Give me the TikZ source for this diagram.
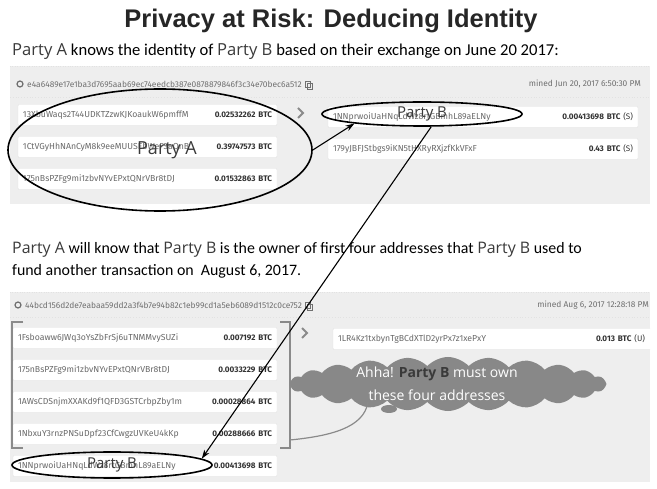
\documentclass[tikz,border=0pt]{standalone}
\usepackage{fontspec}
\setmainfont{Carlito}
\newfontfamily\titlefont{Liberation Sans}
\newfontfamily\shotfont{Fira Sans}
\newfontfamily\partyfont{Open Sans}
\usetikzlibrary{shapes.geometric,shapes.symbols,arrows.meta}

\definecolor{titletext}{HTML}{262626}
\definecolor{partytext}{HTML}{3A3A3A}
\definecolor{panelgray}{HTML}{EEEEEE}
\definecolor{boxedge}{HTML}{E2E2E2}
\definecolor{addrtext}{HTML}{6A6A6A}
\definecolor{amttext}{HTML}{333333}
\definecolor{headtext}{HTML}{707070}
\definecolor{cloudgray}{HTML}{888888}
\definecolor{brackgray}{HTML}{8A8A8A}

\newcommand{\pA}{{\partyfont\color{partytext}Party A}}
\newcommand{\pB}{{\partyfont\color{partytext}Party B}}

\tikzset{
  sentence/.style={anchor=base west, inner sep=0pt, font=\fontsize{15.9}{18}\selectfont},
  headline/.style={inner sep=0pt, text=headtext, font=\shotfont\fontsize{8.4}{9}\selectfont},
  addrbox/.style={draw=boxedge, fill=white, rounded corners=1pt, minimum height=21pt,
    inner xsep=5pt, inner ysep=0pt, text=addrtext, font=\shotfont\fontsize{8.7}{9}\selectfont},
  ring/.style={draw, ellipse, line width=1.6pt, inner sep=0pt, font=\partyfont, text=partytext},
  pointer/.style={-{Stealth[length=9pt,width=6pt]}, line width=1.1pt},
  chevron/.style={draw=brackgray, line width=2pt},
}
\newcommand{\amount}[1]{{\fontsize{8.1}{9}\selectfont\bfseries\color{amttext}#1}}

\begin{document}
\begin{tikzpicture}[x=1pt, y=-1pt]
\useasboundingbox (0,0) rectangle (657,489);
\fill [white] (0,0) rectangle (657,489);

% title and first sentence
\node (title) [font=\titlefont\bfseries\fontsize{25.5}{28}\selectfont, text=titletext] at (331,21) {Privacy at Risk: Deducing Identity};
\node (line1) [sentence, font=\fontsize{16.6}{18}\selectfont] at (12,56) {\pA{} knows the identity of \pB{} based on their exchange on June 20 2017:};

% first transaction
\fill [panelgray] (10,66) rectangle (650,204);
\draw [boxedge, dotted] (10,66) -- (650,66);
\draw [boxedge, dotted, line width=0.8pt] (10,97) -- (650,97);
\draw [headtext, line width=1.2pt] (20,84) circle (3pt);
\node (hash1) [headline, anchor=west] at (27,84) {e4a6489e17e1ba3d7695aab69ec74eedcb387e0878879846f3c34e70bec6a512};
\draw [headtext, line width=0.6pt] ([xshift=3pt,yshift=-3pt]hash1.east) rectangle ++(5,-6) ++(2,2) rectangle ++(-5,6);
\node (mined1) [headline, anchor=east] at (641,84) {mined Jun 20, 2017 6:50:30 PM};

\node (inA1) [addrbox, text width=249pt] at (147.5,115) {13XbuWaqs2T44UDKTZzwKJKoaukW6pmffM\hfill\amount{0.02532262 BTC}};
\node (inA2) [addrbox, text width=249pt] at (147.5,147) {1CtVGyHhNAnCyM8k9eeMUUSEbWeF3aQnB\hfill\amount{0.39747573 BTC}};
\node (inA3) [addrbox, text width=249pt] at (147.5,179) {175nBsPZFg9mi1zbvNYvEPxtQNrVBr8tDJ\hfill\amount{0.01532863 BTC}};
\draw [chevron] (298,108) -- (303,113) -- (298,118);
\node (outA1) [addrbox, text width=300pt] at (483,117) {1NNprwoiUaHNqLdWz8rtGBmhL89aELNy\hfill\amount{0.00413698 BTC {\mdseries(S)}}};
\node (outA2) [addrbox, text width=300pt] at (483,149) {179yJBFJStbgs9iKN5tHXRyRXjzfKkVFxF\hfill\amount{0.43 BTC {\mdseries(S)}}};

% second sentence
\node (line2) [sentence] at (12,254) {\pA{} will know that \pB{} is the owner of first four addresses that \pB{} used to};
\node (line3) [sentence] at (12,276) {fund another transaction on~ August 6, 2017.};

% second transaction
\fill [panelgray] (10,292) rectangle (650,482);
\draw [boxedge, dotted] (10,292) -- (650,292);
\draw [boxedge, dotted, line width=0.8pt] (10,317) -- (650,317);
\draw [headtext, line width=1.2pt] (18,305) circle (3pt);
\node (hash2) [headline, anchor=west] at (25,305) {44bcd156d2de7eabaa59dd2a3f4b7e94b82c1eb99cd1a5eb6089d1512c0ce752};
\draw [headtext, line width=0.6pt] ([xshift=3pt,yshift=-3pt]hash2.east) rectangle ++(5,-6) ++(2,2) rectangle ++(-5,6);
\node (mined2) [headline, anchor=east] at (649,305) {mined Aug 6, 2017 12:28:18 PM};

\node (inB1) [addrbox, text width=254pt] at (145,338) {1Fsboaww6JWq3oYsZbFrSj6uTNMMvySUZi\hfill\amount{0.007192 BTC}};
\node (inB2) [addrbox, text width=254pt] at (145,370) {175nBsPZFg9mi1zbvNYvEPxtQNrVBr8tDJ\hfill\amount{0.0033229 BTC}};
\node (inB3) [addrbox, text width=254pt] at (145,402) {1AWsCDSnjmXXAKd9f1QFD3GSTCrbpZby1m\hfill\amount{0.00028864 BTC}};
\node (inB4) [addrbox, text width=254pt] at (145,434) {1NbxuY3rnzPNSuDpf23CfCwgzUVKeU4kKp\hfill\amount{0.00288666 BTC}};
\node (inB5) [addrbox, text width=254pt] at (145,466) {1NNprwoiUaHNqLdWz8rtGBmhL89aELNy\hfill\amount{0.00413698 BTC}};
\draw [brackgray, line width=2pt] (23,322) -- (12,322) -- (12,448) -- (23,448);
\draw [brackgray, line width=2pt] (280,322) -- (290,322) -- (290,448) -- (280,448);
\coordinate (brk) at (290,440);
\draw [chevron] (302,328) -- (307,333) -- (302,338);
\begin{scope}
\clip (10,292) rectangle (650,482);
\node (outB1) [addrbox, text width=310pt] at (493,339) {1LR4Kz1txbynTgBCdXTlD2yrPx7z1xePxY\hfill\amount{0.013 BTC {\mdseries(U)}}\hspace*{3pt}};
\end{scope}

% the thought
\node (thought) [cloud, cloud puffs=24, cloud puff arc=95, aspect=5.8, fill=cloudgray, minimum width=317pt, minimum height=54pt, inner sep=0pt] at (448,384) {};
\node (thoughttext) [align=center, text=white, inner sep=0pt, font=\partyfont\fontsize{14}{23}\selectfont] at (437,384) {Ahha! {\bfseries\color{partytext}Party B} must own\\these four addresses};
\fill [cloudgray] (389,409) ellipse (8 and 4);
\coordinate (tail) at (368,402);
\draw [brackgray, line width=1.2pt] (tail) .. controls (364,428) and (330,436) .. (brk);

% who is who
\node (partyA) [ring, minimum width=304pt, minimum height=122pt, font=\partyfont\fontsize{18}{20}\selectfont] at (160,150) {\hspace*{14pt}Party A};
\node (partyB) [ring, minimum width=200pt, minimum height=24pt, font=\partyfont\fontsize{15}{17}\selectfont] at (422,114) {Party B};
\node (partyBb) [ring, minimum width=200pt, minimum height=26pt, font=\partyfont\fontsize{15}{17}\selectfont] at (112,465) {Party B};

\draw [pointer] (partyA.east) -- (partyB.188);
\draw [pointer] (partyB.-54) -- (partyBb.4);
\end{tikzpicture}
\end{document}
